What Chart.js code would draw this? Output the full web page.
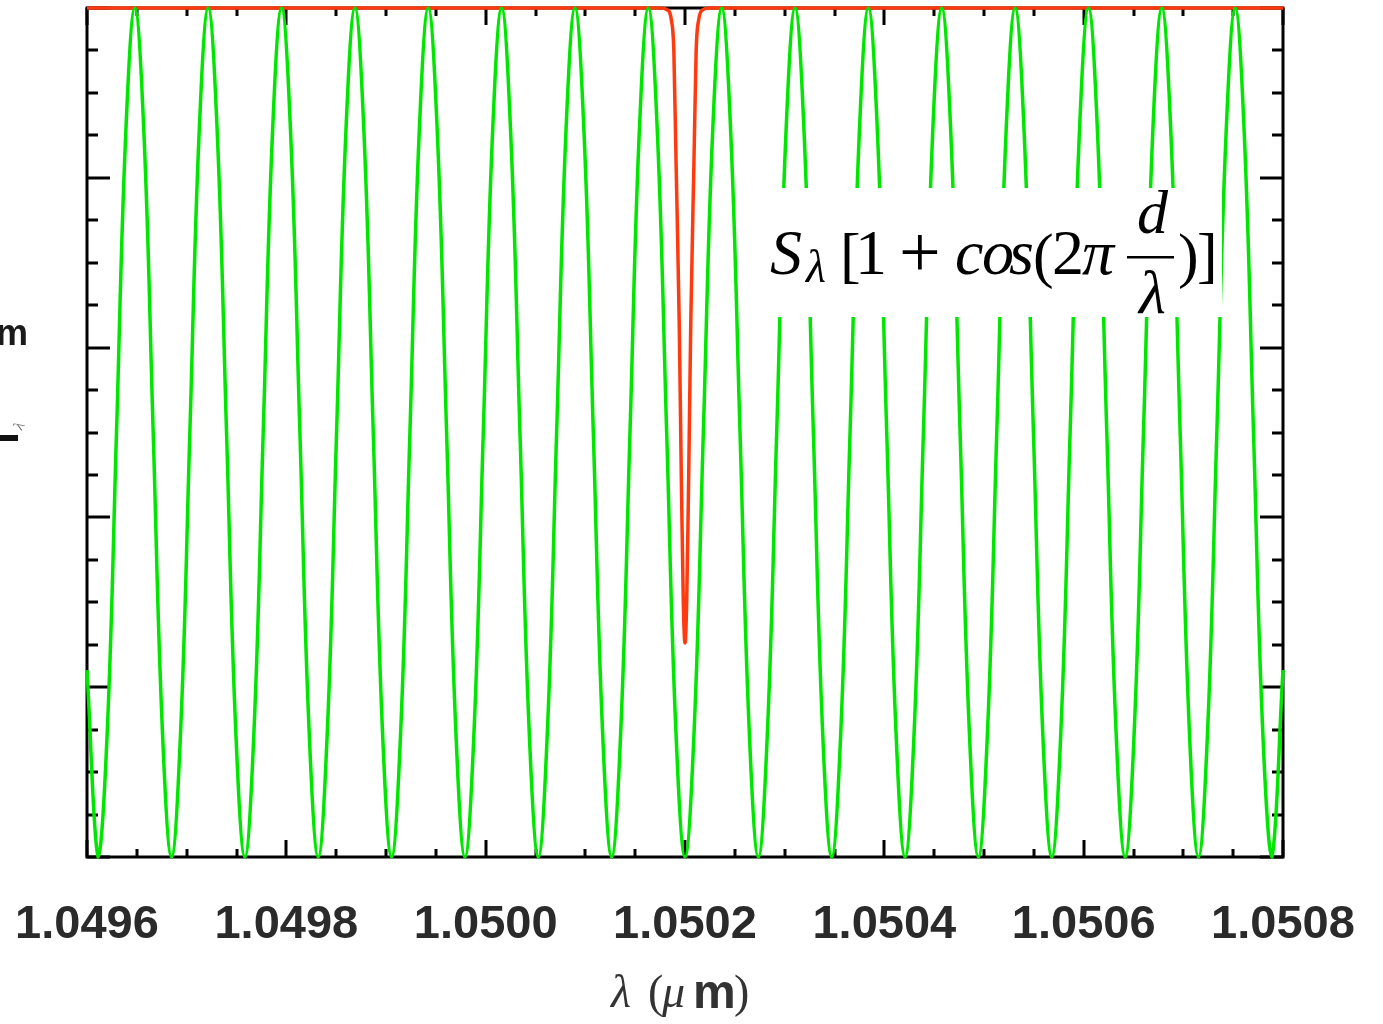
<!DOCTYPE html>
<html>
<head>
<meta charset="utf-8">
<script src="https://cdn.jsdelivr.net/npm/chart.js@4.4.1/dist/chart.umd.min.js"></script>
<style>
  html, body { margin: 0; padding: 0; background: #fff; }
  #wrap { width: 1383px; height: 1024px; position: relative; }
  canvas { display: block; }
</style>
</head>
<body>
<div id="wrap"><canvas id="spec" width="1383" height="1024"></canvas></div>
<script>
// x axis: wavelength (um)
const xMin = 1.0496, xMax = 1.0508;
const tickLabels = ["1.0496", "1.0498", "1.0500", "1.0502", "1.0504", "1.0506", "1.0508"];

const greenWave = [
  1.0496000,
  1.0496112, 1.0496204, 1.0496296, 1.0496388, 1.0496480, 1.0496572, 1.0496664, 1.0496756,
  1.0496848, 1.0496940, 1.0497032, 1.0497124, 1.0497216, 1.0497308, 1.0497400, 1.0497492,
  1.0497584, 1.0497676, 1.0497768, 1.0497860, 1.0497952, 1.0498044, 1.0498136, 1.0498228,
  1.0498320, 1.0498412, 1.0498504, 1.0498596, 1.0498688, 1.0498780, 1.0498872, 1.0498964,
  1.0499056, 1.0499148, 1.0499240, 1.0499332, 1.0499424, 1.0499516, 1.0499608, 1.0499700,
  1.0499792, 1.0499884, 1.0499976, 1.0500068, 1.0500160, 1.0500252, 1.0500344, 1.0500436,
  1.0500528, 1.0500620, 1.0500712, 1.0500804, 1.0500896, 1.0500988, 1.0501080, 1.0501172,
  1.0501264, 1.0501356, 1.0501448, 1.0501540, 1.0501632, 1.0501724, 1.0501816, 1.0501908,
  1.0502000, 1.0502092, 1.0502184, 1.0502276, 1.0502368, 1.0502460, 1.0502552, 1.0502644,
  1.0502736, 1.0502828, 1.0502920, 1.0503012, 1.0503104, 1.0503196, 1.0503288, 1.0503380,
  1.0503472, 1.0503564, 1.0503656, 1.0503748, 1.0503840, 1.0503932, 1.0504024, 1.0504116,
  1.0504208, 1.0504300, 1.0504392, 1.0504484, 1.0504576, 1.0504668, 1.0504760, 1.0504852,
  1.0504944, 1.0505036, 1.0505128, 1.0505220, 1.0505312, 1.0505404, 1.0505496, 1.0505588,
  1.0505680, 1.0505772, 1.0505864, 1.0505956, 1.0506048, 1.0506140, 1.0506232, 1.0506324,
  1.0506416, 1.0506508, 1.0506600, 1.0506692, 1.0506784, 1.0506876, 1.0506968, 1.0507060,
  1.0507152, 1.0507244, 1.0507336, 1.0507428, 1.0507520, 1.0507612, 1.0507704, 1.0507796,
  1.0507888, 1.0508000
];
const greenFlux = [
  0.22,
  0, 0.15, 0.5, 0.85, 1, 0.85, 0.5, 0.15,
  0, 0.15, 0.5, 0.85, 1, 0.85, 0.5, 0.15,
  0, 0.15, 0.5, 0.85, 1, 0.85, 0.5, 0.15,
  0, 0.15, 0.5, 0.85, 1, 0.85, 0.5, 0.15,
  0, 0.15, 0.5, 0.85, 1, 0.85, 0.5, 0.15,
  0, 0.15, 0.5, 0.85, 1, 0.85, 0.5, 0.15,
  0, 0.15, 0.5, 0.85, 1, 0.85, 0.5, 0.15,
  0, 0.15, 0.5, 0.85, 1, 0.85, 0.5, 0.15,
  0, 0.15, 0.5, 0.85, 1, 0.85, 0.5, 0.15,
  0, 0.15, 0.5, 0.85, 1, 0.85, 0.5, 0.15,
  0, 0.15, 0.5, 0.85, 1, 0.85, 0.5, 0.15,
  0, 0.15, 0.5, 0.85, 1, 0.85, 0.5, 0.15,
  0, 0.15, 0.5, 0.85, 1, 0.85, 0.5, 0.15,
  0, 0.15, 0.5, 0.85, 1, 0.85, 0.5, 0.15,
  0, 0.15, 0.5, 0.85, 1, 0.85, 0.5, 0.15,
  0, 0.15, 0.5, 0.85, 1, 0.85, 0.5, 0.15,
  0, 0.22
];

// red: stellar line, flat continuum with one narrow absorption
const redWave = [
  1.0496000, 1.0501750, 1.0501820, 1.0501863, 1.0501888, 1.0501910, 1.0501942, 1.0501964, 1.0501983,
  1.0502000,
  1.0502017, 1.0502036, 1.0502058, 1.0502090, 1.0502112, 1.0502137, 1.0502180, 1.0502250, 1.0508000
];
const redFlux = [
  1, 1, 0.998, 0.986, 0.95, 0.82, 0.63, 0.44, 0.30,
  0.252,
  0.30, 0.44, 0.63, 0.82, 0.95, 0.986, 0.998, 1, 1
];

function pts(xs, ys) {
  return xs.map((x, i) => ({ x: x, y: ys[i] }));
}

// frame + inward ticks on all four sides
const framePlugin = {
  id: 'frame',
  beforeDatasetsDraw(chart) {
    const ctx = chart.ctx, a = chart.chartArea;
    const sx = chart.scales.x, sy = chart.scales.y;
    ctx.save();
    ctx.strokeStyle = '#000';
    ctx.lineWidth = 3;
    ctx.strokeRect(a.left, a.top, a.right - a.left, a.bottom - a.top);
    ctx.beginPath();
    for (let i = 0; i <= 24; i++) {
      const v = xMin + i * 0.00005;
      const px = Math.round(sx.getPixelForValue(v));
      const len = (i % 4 === 0) ? 17 : 8;
      ctx.moveTo(px, a.bottom); ctx.lineTo(px, a.bottom - len);
      ctx.moveTo(px, a.top); ctx.lineTo(px, a.top + len);
    }
    for (let i = 0; i <= 20; i++) {
      const v = i * 0.05;
      const py = Math.round(sy.getPixelForValue(v));
      const len = (i % 4 === 0) ? 23 : 11;
      ctx.moveTo(a.left, py); ctx.lineTo(a.left + len, py);
      ctx.moveTo(a.right, py); ctx.lineTo(a.right - len, py);
    }
    ctx.stroke();
    ctx.restore();
  },
  afterDraw(chart) {
    const ctx = chart.ctx;
    ctx.save();
    // formula box
    ctx.fillStyle = '#fff';
    ctx.fillRect(778, 188, 444, 129);
    ctx.fillStyle = '#000';
    ctx.textBaseline = 'alphabetic';
    const serif = '"Liberation Serif", "DejaVu Serif", serif';
    const put = (txt, font, x, y) => { ctx.font = font; ctx.fillText(txt, x, y); };
    put('S', 'italic 64px ' + serif, 770, 274);
    put('λ', 'italic 46px ' + serif, 806, 282);
    put('[', '62px ' + serif, 840, 276);
    put('1', '64px ' + serif, 855, 274);
    put('+', '74px ' + serif, 899, 277);
    put('c', 'italic 64px ' + serif, 955, 274);
    put('o', 'italic 64px ' + serif, 982, 274);
    put('s', 'italic 64px ' + serif, 1009, 274);
    put('(', '62px ' + serif, 1033, 276);
    put('2', '64px ' + serif, 1052, 274);
    put('π', 'italic 64px ' + serif, 1082, 274);
    put('d', 'italic 62px ' + serif, 1137, 233);
    put('λ', 'italic 62px ' + serif, 1139, 313);
    ctx.fillRect(1127, 256, 47, 2.5);
    put(')', '62px ' + serif, 1178, 276);
    put(']', '62px ' + serif, 1197, 276);

    // x axis title: lambda (um)
    ctx.fillStyle = '#333';
    put('λ', 'italic 46px ' + serif, 611, 1007);
    put('(', '46px ' + serif, 648, 1007);
    put('μ', 'italic 46px ' + serif, 662, 1007);
    put('m', 'bold 48px "Liberation Sans", Arial, sans-serif', 693, 1008);
    put(')', '46px ' + serif, 734, 1007);

    // clipped y axis title fragments at the left edge
    ctx.fillStyle = '#1a1a1a';
    ctx.textAlign = 'right';
    put('m', 'bold 36px "Liberation Sans", Arial, sans-serif', 28, 345);
    ctx.fillStyle = '#111';
    ctx.fillRect(0, 435, 18, 6);
    ctx.save();
    ctx.translate(23, 428);
    ctx.rotate(-Math.PI / 3);
    ctx.fillStyle = '#777';
    ctx.font = '15px ' + serif;
    ctx.textAlign = 'center';
    ctx.fillText('λ', 0, 0);
    ctx.restore();
    ctx.restore();
  }
};

const ctx = document.getElementById('spec');
new Chart(ctx, {
  type: 'line',
  data: {
    datasets: [{
      label: 'fringes',
      data: pts(greenWave, greenFlux),
      borderColor: '#00e600',
      borderWidth: 3.5,
      pointRadius: 0,
      tension: 0.4,
      fill: false,
      clip: false
    }, {
      label: 'spectrum',
      data: pts(redWave, redFlux),
      borderColor: '#ff3a0e',
      borderWidth: 3.5,
      pointRadius: 0,
      cubicInterpolationMode: 'monotone',
      fill: false,
      clip: false
    }]
  },
  options: {
    responsive: false,
    animation: false,
    devicePixelRatio: 1,
    layout: { padding: { left: 87, right: 100, top: 8, bottom: 0 } },
    plugins: {
      legend: { display: false },
      tooltip: { enabled: false }
    },
    scales: {
      x: {
        type: 'linear',
        min: xMin,
        max: xMax,
        afterFit(scale) {
          scale.height = 167;
          scale.paddingLeft = 0;
          scale.paddingRight = 0;
        },
        afterBuildTicks(scale) {
          scale.ticks = tickLabels.map(t => ({ value: parseFloat(t) }));
        },
        grid: { display: false },
        border: { display: false },
        ticks: {
          autoSkip: false,
          maxRotation: 0,
          padding: 32,
          color: '#2a2a2a',
          font: { family: '"Liberation Sans", Arial, sans-serif', size: 47, weight: 'bold' },
          callback: (v) => v.toFixed(4)
        }
      },
      y: {
        display: false,
        min: 0,
        max: 1
      }
    }
  },
  plugins: [framePlugin]
});
</script>
</body>
</html>
